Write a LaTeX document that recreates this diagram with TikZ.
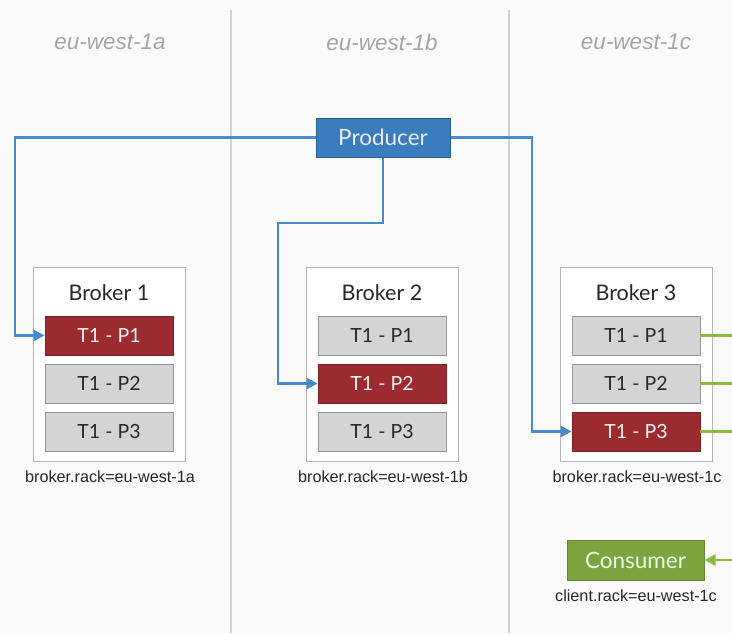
\documentclass[tikz,border=0pt]{standalone}
\usepackage{fontspec}
\setmainfont{Lato}
\newfontfamily\helv{Liberation Sans}
\usetikzlibrary{arrows.meta}
\definecolor{bgc}{RGB}{250,250,250}
\definecolor{divc}{RGB}{210,210,210}
\definecolor{zonec}{RGB}{165,165,165}
\definecolor{prodc}{RGB}{58,125,190}
\definecolor{prodb}{RGB}{40,95,150}
\definecolor{linkc}{RGB}{70,140,205}
\definecolor{redc}{RGB}{155,43,46}
\definecolor{grayc}{RGB}{212,212,212}
\definecolor{grayb}{RGB}{150,150,150}
\definecolor{brokb}{RGB}{180,180,180}
\definecolor{consc}{RGB}{125,163,62}
\definecolor{consb}{RGB}{100,135,45}
\definecolor{greenl}{RGB}{140,185,70}
\definecolor{textc}{RGB}{40,40,40}
\tikzset{
  zone/.style={font=\helv\itshape\fontsize{22.5}{24}\selectfont, text=zonec},
  broker/.style={draw=brokb, fill=white, line width=1pt, minimum width=152pt, minimum height=194pt, inner sep=0pt},
  btitle/.style={font=\fontsize{21.5}{24}\selectfont, text=textc},
  partg/.style={draw=grayb, fill=grayc, line width=0.8pt, minimum width=128pt, minimum height=39pt, inner sep=0pt, font=\fontsize{19.5}{22}\selectfont, text=textc},
  partr/.style={draw=redc!80!black, fill=redc, line width=0.8pt, minimum width=128pt, minimum height=39pt, inner sep=0pt, font=\fontsize{19.5}{22}\selectfont, text=white!90!gray},
  rack/.style={font=\helv\fontsize{16.2}{18}\selectfont, text=textc},
  blue/.style={draw=linkc, line width=2.6pt, -{Triangle[length=11pt,width=11pt]}},
  green/.style={draw=greenl, line width=2.4pt},
}
\begin{document}
\begin{tikzpicture}[x=1pt,y=-1pt]
\useasboundingbox (0,0) rectangle (732,633);
\fill[bgc] (0,0) rectangle (732,633);
\coordinate (d1t) at (231,10); \coordinate (d1b) at (231,633);
\coordinate (d2t) at (509,10); \coordinate (d2b) at (509,633);
\draw[divc, line width=1.2pt] (d1t) -- (d1b);
\draw[divc, line width=1.2pt] (d2t) -- (d2b);
\node[zone] (za) at (110,42) {eu-west-1a};
\node[zone] (zb) at (382,42) {eu-west-1b};
\node[zone] (zc) at (636,42) {eu-west-1c};
% producer
\node[draw=prodb, fill=prodc, line width=1pt, minimum width=134pt, minimum height=39pt, inner sep=0pt, font=\fontsize{22.5}{25}\selectfont, text=white!92!blue] (prod) at (383,137.5) {Producer};
% brokers
\foreach \n/\cx/\r in {1/109/eu-west-1a, 2/382/eu-west-1b, 3/636/eu-west-1c}{
  \node[broker] (b\n) at (\cx,364) {};
  \node[btitle] (bt\n) at (\cx,293) {Broker \n};
  \node[rack] (rk\n) at (\cx+1,477) {broker.rack=\r};
}
\node[partr] (b1p1) at (109,335.5) {T1 - P1};
\node[partg] (b1p2) at (109,383.5) {T1 - P2};
\node[partg] (b1p3) at (109,431.5) {T1 - P3};
\node[partg] (b2p1) at (382,335.5) {T1 - P1};
\node[partr] (b2p2) at (382,383.5) {T1 - P2};
\node[partg] (b2p3) at (382,431.5) {T1 - P3};
\node[partg] (b3p1) at (636,335.5) {T1 - P1};
\node[partg] (b3p2) at (636,383.5) {T1 - P2};
\node[partr] (b3p3) at (636,431.5) {T1 - P3};
% consumer
\node[draw=consb, fill=consc, line width=1pt, minimum width=137pt, minimum height=40pt, inner sep=0pt, font=\fontsize{22.5}{25}\selectfont, text=white!90!green] (cons) at (635.5,560) {Consumer};
\node[rack] (crk) at (636,596) {client.rack=eu-west-1c};
% producer links
\coordinate (l1) at (15,137.5);
\coordinate (l2a) at (383,223);
\coordinate (l2b) at (278,223);
\coordinate (l3) at (532,137.5);
\draw[blue] (prod.west) -- (l1) |- (b1p1.west);
\draw[blue] (prod.south) -- (l2a) -- (l2b) |- (b2p2.west);
\draw[blue] (prod.east) -- (l3) |- (b3p3.west);
% consumer links
\coordinate (g1) at (733,335.5);
\coordinate (g2) at (733,383.5);
\coordinate (g3) at (733,431.5);
\coordinate (g4) at (733,560);
\draw[green] (b3p1.east) -- (g1);
\draw[green] (b3p2.east) -- (g2);
\draw[green] (b3p3.east) -- (g3);
\draw[green, -{Triangle[length=11pt,width=11pt]}] (g4) -- (cons.east);
\end{tikzpicture}
\end{document}
